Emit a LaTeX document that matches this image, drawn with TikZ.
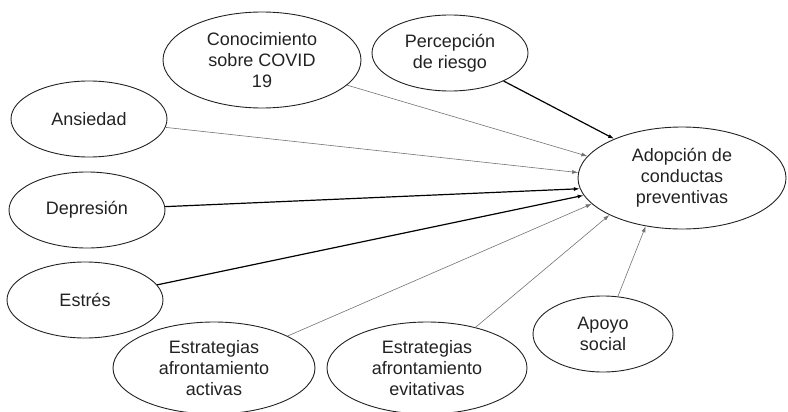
\documentclass[tikz,border=0pt]{standalone}
\usepackage{fontspec}
\setmainfont{Liberation Sans}
\usepackage{tikz}
\usetikzlibrary{shapes,arrows.meta,positioning}

\definecolor{INK}{HTML}{222222}
\tikzstyle{var} = [ellipse, draw=INK, line width=0.9bp, inner sep=0pt, align=center, text=INK, font=\fontsize{18bp}{21bp}\selectfont]
\tikzstyle{small_var} = [var, minimum width=156bp, minimum height=76bp]
\tikzstyle{big_var} = [var, minimum width=200bp, minimum height=92bp]
\tikzstyle{path_strong} = [draw=black, line width=1.2bp, -{Latex[length=6bp,width=4bp]}]
\tikzstyle{path_weak} = [draw=black!55, line width=0.6bp, -{Latex[length=6bp,width=4bp]}]

\begin{document}
\begin{tikzpicture}[x=1bp, y=1bp]
      \useasboundingbox (0,0) rectangle (788,411);

      % outcome
      \node[var, minimum width=208bp, minimum height=102bp] (ADOP) at (682,233) {Adopción de\\conductas\\preventivas};

      % predictors
      \node[var, minimum width=198bp, minimum height=96bp] (CONOC) at (262,351) {Conocimiento\\sobre COVID\\19};
      \node[small_var] (PERCEP) at (450,358) {Percepción\\de riesgo};
      \node[small_var] (ANS) at (89,292) {Ansiedad};
      \node[small_var] (DEP) at (87,201) {Depresión};
      \node[small_var] (EST) at (85,111) {Estrés};
      \node[big_var, minimum width=202bp] (ACT) at (214,43) {Estrategias\\afrontamiento\\activas};
      \node[big_var] (EVIT) at (427,43) {Estrategias\\afrontamiento\\evitativas};
      \node[small_var, minimum width=140bp] (APOYO) at (603,77) {Apoyo\\social};

      % paths
      \draw[path_strong] (PERCEP) -- (ADOP.150);
      \draw[path_weak]   (CONOC)  -- (ADOP.167);
      \draw[path_weak]   (ANS)    -- (ADOP.177);
      \draw[path_strong] (DEP)    -- (ADOP.186);
      \draw[path_strong] (EST)    -- (ADOP.190);
      \draw[path_weak]   (ACT)    -- (ADOP.196);
      \draw[path_weak]   (EVIT)   -- (ADOP.207);
      \draw[path_weak]   (APOYO)  -- (ADOP.233);
\end{tikzpicture}
\end{document}
